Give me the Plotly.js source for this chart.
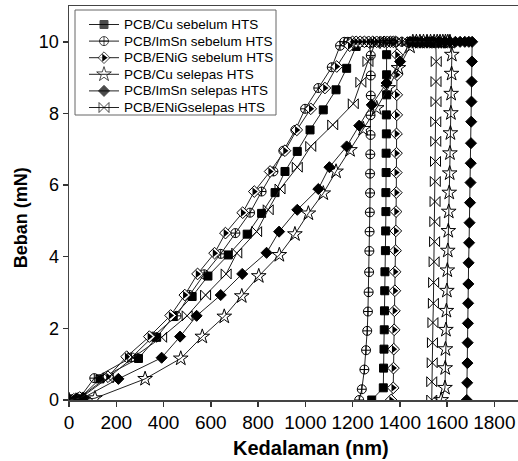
<!DOCTYPE html>
<html>
<head>
<meta charset="utf-8">
<script src="https://cdn.plot.ly/plotly-3.0.1.min.js"></script>
<style>html,body{margin:0;padding:0;background:#fff}#chart{width:518px;height:461px}</style>
</head>
<body>
<div id="chart"></div>
<script>
// Depth (nm) and load (mN), per series (loading, hold, unloading)
var cuSebelumX = [0, 25, 50, 131, 294, 371, 441, 521, 588, 674, 754, 815, 872, 914, 966, 1020, 1076, 1130, 1175, 1215,
  1230, 1245, 1258, 1270, 1282, 1292, 1302, 1312, 1320, 1328, 1336, 1342,
  1344, 1344, 1344, 1343, 1343, 1342, 1342, 1341, 1341, 1340, 1339, 1337, 1336, 1335, 1334, 1333, 1331, 1330, 1281];
var cuSebelumY = [0, 0.03, 0.08, 0.59, 1.16, 1.75, 2.33, 2.89, 3.46, 4.05, 4.63, 5.21, 5.79, 6.38, 6.94, 7.54, 8.10, 8.66, 9.26, 9.87,
  10, 10, 10, 10, 10, 10, 10, 10, 10, 10, 10, 10,
  9.64, 9.08, 8.52, 7.96, 7.43, 6.89, 6.35, 5.79, 5.26, 4.72, 4.17, 3.58, 3.05, 2.49, 1.96, 1.42, 0.89, 0.34, 0];

var imsnSebelumX = [0, 20, 45, 107, 265, 355, 455, 510, 572, 642, 704, 766, 815, 865, 907, 958, 999, 1055, 1112, 1147,
  1165, 1180, 1194, 1207, 1219, 1230, 1240, 1249, 1257, 1264, 1270,
  1277, 1277, 1277, 1276, 1276, 1275, 1274, 1274, 1273, 1272, 1271, 1270, 1268, 1265, 1262, 1257, 1250, 1239, 1228];
var imsnSebelumY = [0, 0.02, 0.06, 0.61, 1.19, 1.77, 2.35, 2.93, 3.51, 4.08, 4.66, 5.23, 5.82, 6.38, 6.96, 7.54, 8.13, 8.71, 9.29, 9.89,
  10, 10, 10, 10, 10, 10, 10, 10, 10, 10, 10,
  9.62, 9.06, 8.50, 7.95, 7.40, 6.86, 6.32, 5.78, 5.24, 4.70, 4.16, 3.57, 3.01, 2.47, 1.93, 1.39, 0.85, 0.30, 0];

var enigSebelumX = [0, 20, 45, 165, 244, 340, 430, 490, 544, 616, 662, 735, 784, 851, 914, 964, 1023, 1083, 1133, 1188,
  1200, 1215, 1232, 1250, 1268, 1285, 1302, 1318, 1333, 1347, 1360, 1372, 1382,
  1388, 1388, 1387, 1387, 1386, 1386, 1385, 1385, 1384, 1383, 1382, 1380, 1379, 1377, 1376, 1374, 1373, 1372, 1363];
var enigSebelumY = [0, 0.02, 0.07, 0.65, 1.21, 1.77, 2.36, 2.93, 3.52, 4.10, 4.66, 5.23, 5.82, 6.38, 6.96, 7.54, 8.13, 8.71, 9.31, 9.89,
  10, 10, 10, 10, 10, 10, 10, 10, 10, 10, 10, 10, 10,
  9.64, 9.08, 8.52, 7.96, 7.43, 6.89, 6.35, 5.79, 5.26, 4.72, 4.17, 3.58, 3.05, 2.49, 1.96, 1.42, 0.89, 0.34, 0];

var cuSelepasX = [0, 60, 110, 322, 473, 564, 657, 731, 803, 890, 956, 1013, 1076, 1130, 1189, 1245, 1302, 1351, 1394, 1443,
  1455, 1470, 1485, 1500, 1515, 1530, 1545, 1558, 1570, 1582, 1593, 1603, 1612,
  1620, 1619, 1617, 1616, 1614, 1612, 1611, 1609, 1607, 1605, 1603, 1601, 1599, 1597, 1595, 1593, 1592, 1591, 1575];
var cuSelepasY = [0, 0.01, 0.05, 0.59, 1.16, 1.77, 2.33, 2.90, 3.46, 4.05, 4.63, 5.21, 5.77, 6.38, 6.98, 7.57, 8.15, 8.71, 9.27, 9.87,
  10, 10, 10, 10, 10, 10, 10, 10, 10, 10, 10, 10, 10,
  9.64, 9.11, 8.55, 8.01, 7.45, 6.89, 6.33, 5.79, 5.26, 4.72, 4.17, 3.62, 3.05, 2.49, 1.96, 1.42, 0.89, 0.34, 0];

var imsnSelepasX = [0, 30, 60, 209, 392, 470, 540, 642, 733, 836, 889, 966, 1055, 1102, 1175, 1228, 1281, 1344, 1401, 1443,
  1465, 1490, 1515, 1540, 1565, 1590, 1612, 1635, 1655, 1675, 1692, 1706,
  1705, 1704, 1703, 1702, 1701, 1700, 1699, 1697, 1695, 1693, 1691, 1690, 1689, 1688, 1687, 1686, 1685, 1683];
var imsnSelepasY = [0, 0.02, 0.06, 0.59, 1.18, 1.77, 2.35, 2.93, 3.52, 4.11, 4.70, 5.31, 5.89, 6.50, 7.08, 7.66, 8.24, 8.85, 9.45, 10.0,
  10, 10, 10, 10, 10, 10, 10, 10, 10, 10, 10, 10,
  9.45, 8.89, 8.33, 7.77, 7.17, 6.61, 6.07, 5.51, 4.95, 4.39, 3.83, 3.24, 2.70, 2.14, 1.60, 1.03, 0.48, 0];

var enigSelepasX = [0, 25, 50, 166, 270, 392, 500, 578, 665, 710, 794, 843, 893, 966, 1023, 1116, 1203, 1235, 1265, 1295,
  1310, 1335, 1360, 1385, 1410, 1432, 1455, 1475, 1495, 1512, 1528, 1542, 1552,
  1554, 1553, 1553, 1552, 1552, 1551, 1550, 1549, 1548, 1547, 1545, 1543, 1542, 1540, 1538, 1537, 1535, 1535];
var enigSelepasY = [0, 0.02, 0.06, 0.62, 1.18, 1.75, 2.35, 2.93, 3.52, 4.10, 4.70, 5.31, 5.89, 6.50, 7.08, 7.68, 8.27, 8.87, 9.45, 9.95,
  10, 10, 10, 10, 10, 10, 10, 10, 10, 10, 10, 10, 10,
  9.45, 8.89, 8.33, 7.77, 7.22, 6.66, 6.10, 5.54, 4.98, 4.42, 3.86, 3.28, 2.70, 2.16, 1.60, 1.04, 0.51, 0];

var seriesNames = ['PCB/Cu sebelum HTS', 'PCB/ImSn sebelum HTS', 'PCB/ENiG sebelum HTS',
  'PCB/Cu selepas HTS', 'PCB/ImSn selepas HTS', 'PCB/ENiGselepas HTS'];
var xTickVals = [0, 200, 400, 600, 800, 1000, 1200, 1400, 1600, 1800];
var yTickVals = [0, 2, 4, 6, 8, 10];
var xTitle = 'Kedalaman (nm)';
var yTitle = 'Beban (mN)';

var FONT = 'Liberation Sans, Arial, sans-serif';
var lineStyle = {color: '#222', width: 1};
var styles = [
  {symbol: 'square', size: 8, color: '#000'},
  {symbol: 'circle-cross-open', size: 9, color: '#000'},
  {symbol: 'diamond', size: 9, color: '#fff', half: true},
  {symbol: 'star-open', size: 11, color: '#000'},
  {symbol: 'diamond', size: 8.5, color: '#000'},
  {symbol: 'bowtie-open', size: 10, color: '#000'}
];
var seriesX = [cuSebelumX, imsnSebelumX, enigSebelumX, cuSelepasX, imsnSelepasX, enigSelepasX];
var seriesY = [cuSebelumY, imsnSebelumY, enigSebelumY, cuSelepasY, imsnSelepasY, enigSelepasY];

var traces = [];
function halfFill(x, y, xa, ya) {
  return {type: 'scatter', mode: 'markers', x: x, y: y, xaxis: xa, yaxis: ya, showlegend: false,
    hoverinfo: 'skip', marker: {symbol: 'triangle-right', size: 7, color: '#000', line: {width: 0}}};
}
seriesNames.forEach(function (name, i) {
  var s = styles[i];
  traces.push({
    type: 'scatter', mode: 'lines+markers', name: name, x: seriesX[i], y: seriesY[i],
    line: lineStyle, showlegend: false,
    marker: {symbol: s.symbol, size: s.size, color: s.color, line: {color: '#000', width: 1}}
  });
  if (s.half) traces.push(halfFill(seriesX[i], seriesY[i], 'x', 'y'));
});

// Legend drawn in a pixel-unit overlay (x2/y2), so that the row spacing matches the reference
var legLeft = 75, legTop = 10, legRight = 276, legRow = 16.6, legFirst = 24.5;
var annotations = [];
seriesNames.forEach(function (name, i) {
  var s = styles[i];
  var yc = legFirst + i * legRow;
  traces.push({
    type: 'scatter', mode: 'lines+markers', x: [legLeft + 14, legLeft + 29, legLeft + 44], y: [yc, yc, yc],
    xaxis: 'x2', yaxis: 'y2', showlegend: false, hoverinfo: 'skip', line: lineStyle,
    marker: {symbol: s.symbol, size: [0, s.size, 0], color: s.color, line: {color: '#000', width: [0, 1, 0]}}
  });
  if (s.half) traces.push(halfFill([legLeft + 29], [yc], 'x2', 'y2'));
  annotations.push({text: name, xref: 'x2', yref: 'y2', x: legLeft + 47, y: yc, xanchor: 'left', yanchor: 'middle',
    showarrow: false, font: {size: 13.5, family: FONT, color: '#000'}});
});

annotations.push(
  {text: '<b>' + xTitle + '</b>', xref: 'paper', yref: 'paper', x: 0.539, y: -0.122,
   xanchor: 'center', yanchor: 'middle', showarrow: false, font: {size: 20, family: FONT}},
  {text: '<b>' + yTitle + '</b>', xref: 'paper', yref: 'paper', x: -0.107, y: 0.464,
   xanchor: 'center', yanchor: 'middle', showarrow: false, textangle: -90, font: {size: 18, family: FONT}}
);

var layout = {
  width: 518, height: 461,
  margin: {l: 69, r: 0, t: 6, b: 61},
  paper_bgcolor: '#fff', plot_bgcolor: '#fff',
  font: {family: FONT, color: '#000'},
  showlegend: false,
  xaxis: {
    range: [0, 1900], tickvals: xTickVals, ticktext: xTickVals.map(String),
    ticks: 'outside', ticklen: 5, tickwidth: 1.5, tickcolor: '#333',
    showline: true, linecolor: '#444', linewidth: 1.5, mirror: true,
    showgrid: false, zeroline: false,
    tickfont: {size: 19, family: FONT}
  },
  yaxis: {
    range: [0, 11], tickvals: yTickVals, ticktext: yTickVals.map(String),
    ticks: 'outside', ticklen: 5, tickwidth: 1.5, tickcolor: '#333',
    showline: true, linecolor: '#444', linewidth: 1.5,
    showgrid: false, zeroline: false,
    tickfont: {size: 18, family: FONT}
  },
  xaxis2: {overlaying: 'x', anchor: 'y2', range: [69, 518], visible: false, showgrid: false, zeroline: false},
  yaxis2: {overlaying: 'y', anchor: 'x2', range: [400, 6], visible: false, showgrid: false, zeroline: false},
  shapes: [{type: 'rect', xref: 'x2', yref: 'y2', x0: legLeft, x1: legRight, y0: legTop, y1: 115,
    line: {color: '#666', width: 1}, fillcolor: '#fff', layer: 'below'}],
  annotations: annotations
};
Plotly.newPlot('chart', traces, layout, {displayModeBar: false, staticPlot: true});
</script>
</body>
</html>
